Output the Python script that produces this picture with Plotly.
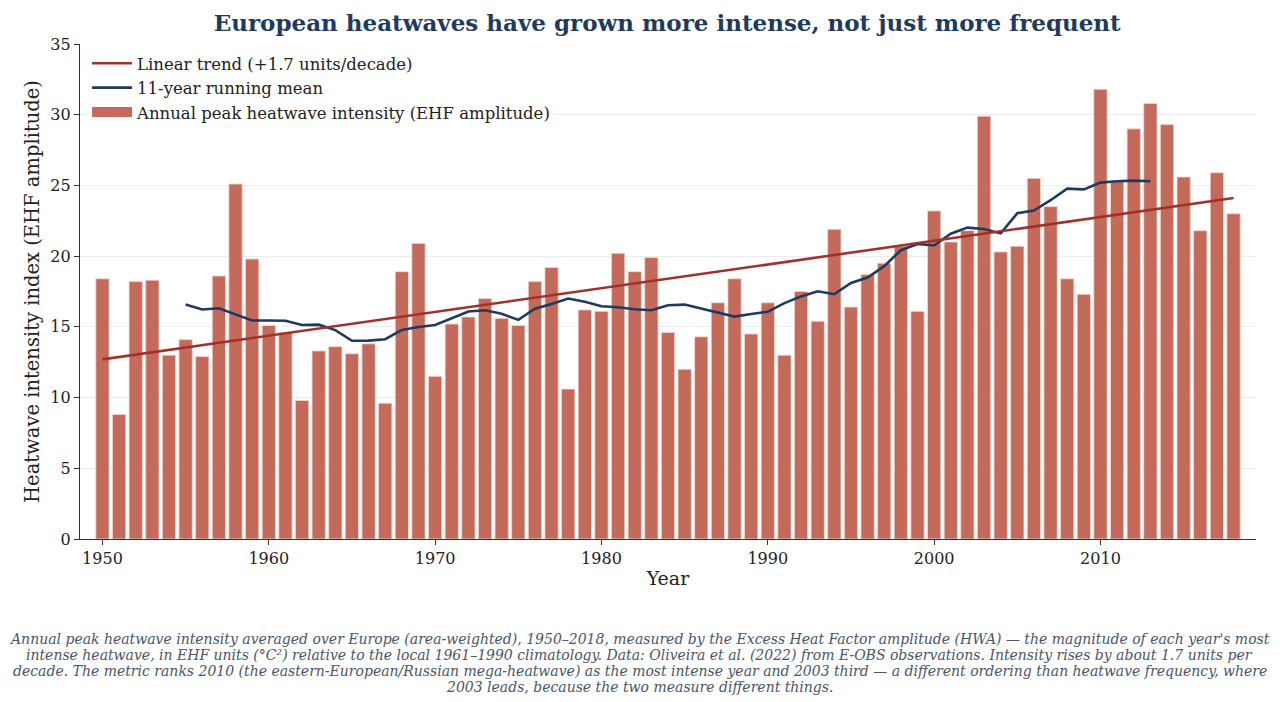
import numpy as np
import pandas as pd
import plotly.graph_objects as go

# annual peak heatwave intensity
years = list(range(1950, 2019))
ehf_amplitude = [
    18.4, 8.8, 18.2, 18.3, 13.0, 14.1, 12.9, 18.6, 25.1, 19.8,   # 1950s
    15.1, 14.6, 9.8, 13.3, 13.6, 13.1, 13.8, 9.6, 18.9, 20.9,    # 1960s
    11.5, 15.2, 15.7, 17.0, 15.6, 15.1, 18.2, 19.2, 10.6, 16.2,  # 1970s
    16.1, 20.2, 18.9, 19.9, 14.6, 12.0, 14.3, 16.7, 18.4, 14.5,  # 1980s
    16.7, 13.0, 17.5, 15.4, 21.9, 16.4, 18.7, 19.5, 20.7, 16.1,  # 1990s
    23.2, 21.0, 21.8, 29.9, 20.3, 20.7, 25.5, 23.5, 18.4, 17.3,  # 2000s
    31.8, 25.3, 29.0, 30.8, 29.3, 25.6, 21.8, 25.9, 23.0,        # 2010s
]
y_ticks = [0, 5, 10, 15, 20, 25, 30, 35]
x_ticks = [1950, 1960, 1970, 1980, 1990, 2000, 2010]

caption_lines = [
    "Annual peak heatwave intensity averaged over Europe (area-weighted), 1950–2018, measured by the Excess Heat Factor amplitude (HWA) — the magnitude of each year's most",
    "intense heatwave, in EHF units (°C²) relative to the local 1961–1990 climatology. Data: Oliveira et al. (2022) from E-OBS observations. Intensity rises by about 1.7 units per",
    "decade. The metric ranks 2010 (the eastern-European/Russian mega-heatwave) as the most intense year and 2003 third — a different ordering than heatwave frequency, where",
    "2003 leads, because the two measure different things.",
]

df = pd.DataFrame({'year': years, 'ehf': ehf_amplitude})
df['running'] = df['ehf'].rolling(11, center=True).mean()
slope, intercept = np.polyfit(df['year'], df['ehf'], 1)
df['trend'] = slope * df['year'] + intercept

serif = 'DejaVu Serif'
navy = '#1f3a5f'
bar_col = '#c46a5b'
bar_label = 'Annual peak heatwave intensity (EHF amplitude)'

fig = go.Figure()
fig.add_trace(go.Bar(
    x=df['year'], y=df['ehf'], width=0.8, name=bar_label,
    marker=dict(color=bar_col, line=dict(color='#f3d9d4', width=0.8)),
    showlegend=False,
))
# legend entry drawn as a wide patch, like the original
fig.add_trace(go.Scatter(
    x=[None], y=[None], mode='lines', name=bar_label,
    line=dict(color=bar_col, width=13), legendrank=3,
))
fig.add_trace(go.Scatter(
    x=df['year'], y=df['running'], mode='lines',
    name='11-year running mean',
    line=dict(color=navy, width=2.6),
    legendrank=2,
))
fig.add_trace(go.Scatter(
    x=df['year'], y=df['trend'], mode='lines',
    name='Linear trend (+%.1f units/decade)' % (slope * 10),
    line=dict(color='#a3312b', width=2.6),
    legendrank=1,
))

# caption lines, 16px apart, below the x axis title
notes = []
for i, line in enumerate(caption_lines):
    notes.append(dict(
        text='<i>' + line + '</i>', xref='paper', yref='paper',
        x=0.476, y=-(90 + i * 16) / 495.0,
        xanchor='center', yanchor='top', showarrow=False,
        font=dict(family=serif, size=14, color='#4a5568'),
    ))

fig.update_layout(
    width=1280, height=702,
    margin=dict(l=72, r=32, t=36, b=171),
    paper_bgcolor='white', plot_bgcolor='white',
    font=dict(family=serif, size=16, color='#222222'),
    title=dict(
        text='<b>European heatwaves have grown more intense, not just more frequent</b>',
        font=dict(family=serif, size=23, color=navy),
        x=0.515, xanchor='center', y=0.99, yanchor='top',
    ),
    legend=dict(
        x=0.006, y=0.996, xanchor='left', yanchor='top',
        bgcolor='rgba(255,255,255,0.8)', font=dict(family=serif, size=16.5),
        tracegroupgap=0, itemwidth=40,
    ),
    showlegend=True,
    annotations=notes,
)
fig.update_xaxes(
    range=[1948.65, 2019.35], tickvals=x_ticks, ticks='outside', ticklen=5,
    tickcolor='#333333', showline=True, linecolor='#333333', linewidth=1.2,
    showgrid=False, zeroline=False, automargin=False,
    title=dict(text='Year', font=dict(family=serif, size=19), standoff=4),
    tickfont=dict(size=16),
)
fig.update_yaxes(
    range=[0, 35], tickvals=y_ticks, ticks='outside', ticklen=5,
    tickcolor='#333333', showline=True, linecolor='#333333', linewidth=1.2,
    showgrid=True, gridcolor='#ececf0', gridwidth=1, zeroline=False,
    automargin=False,
    title=dict(text='Heatwave intensity index (EHF amplitude)', font=dict(family=serif, size=19.5), standoff=5),
    tickfont=dict(size=16),
)

fig.write_html("out.html")
